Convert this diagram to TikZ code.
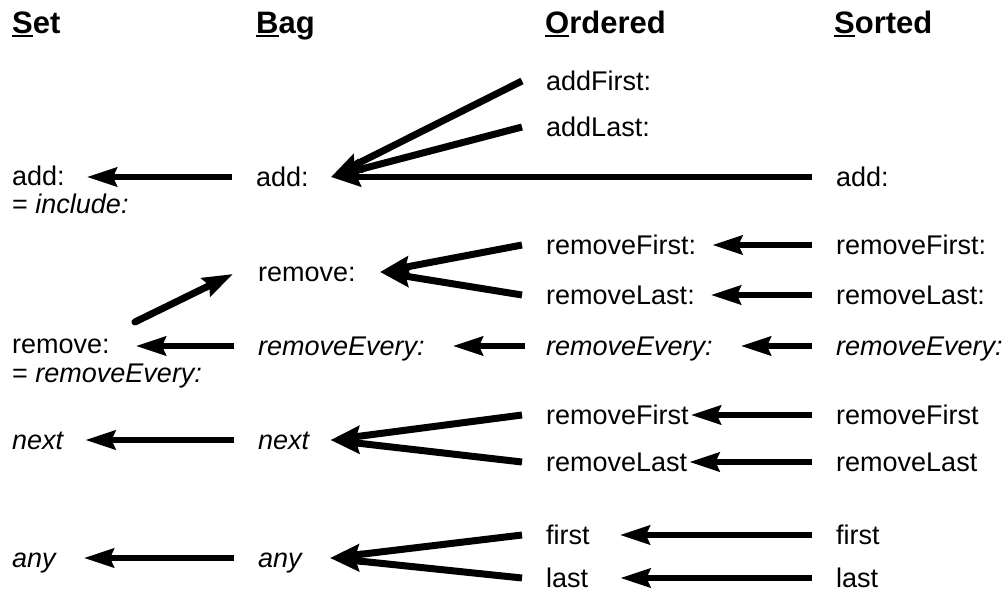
\documentclass[tikz,border=0pt]{standalone}
\usepackage{fontspec}
\setmainfont{Liberation Sans}
\usetikzlibrary{arrows.meta}
\newcommand\hdul[1]{\setbox0=\hbox{#1}\rlap{\rule[-4pt]{\wd0}{2.5pt}}\box0}
\tikzset{
  lbl/.style={anchor=west, inner sep=0pt, text height=19pt, text depth=1pt, font=\fontsize{27}{31}\selectfont},
  itl/.style={lbl, font=\fontsize{27}{31}\selectfont\itshape},
  hdr/.style={anchor=base west, inner sep=0pt, font=\fontsize{31}{35}\selectfont\bfseries},
  arr/.style={line width=5.5pt, -{Stealth[length=30pt, width=19pt, inset=4pt]}},
  fan/.style={line width=7pt, -{Stealth[length=30pt, width=20pt, inset=4pt]}},
}
\begin{document}
\begin{tikzpicture}[x=1pt, y=-1pt]
\useasboundingbox (0,0) rectangle (1007,592);
% headers
\node[hdr] (hset) at (12,33) {\hdul{S}et};
\node[hdr] (hbag) at (256,33) {\hdul{B}ag};
\node[hdr] (hord) at (545,33) {\hdul{O}rdered};
\node[hdr] (hsort) at (834,33) {\hdul{S}orted};
% Set column
\node[lbl] (setadd) at (12,176) {add:};
\node[lbl] (setinc) at (12,204) {= \textit{include:}};
\node[lbl] (setremove) at (12,344) {remove:};
\node[lbl] (setremevery) at (12,373) {= \textit{removeEvery:}};
\node[itl] (setnext) at (12,440) {next};
\node[itl] (setany) at (12,558) {any};
% Bag column
\node[lbl] (bagadd) at (256,177) {add:};
\node[lbl] (bagremove) at (258,272) {remove:};
\node[itl] (bagremevery) at (258,346) {removeEvery:};
\node[itl] (bagnext) at (258,440) {next};
\node[itl] (bagany) at (258,558) {any};
% Ordered column
\node[lbl] (ordaddfirst) at (546,81) {addFirst:};
\node[lbl] (ordaddlast) at (546,127) {addLast:};
\node[lbl] (ordremfirst) at (546,245) {removeFirst:};
\node[lbl] (ordremlast) at (546,295) {removeLast:};
\node[itl] (ordremevery) at (546,346) {removeEvery:};
\node[lbl] (ordremfirstb) at (546,415) {removeFirst};
\node[lbl] (ordremlastb) at (546,462) {removeLast};
\node[lbl] (ordfirst) at (546,535) {first};
\node[lbl] (ordlast) at (546,578) {last};
% Sorted column
\node[lbl] (sortadd) at (836,177) {add:};
\node[lbl] (sortremfirst) at (836,245) {removeFirst:};
\node[lbl] (sortremlast) at (836,295) {removeLast:};
\node[itl] (sortremevery) at (836,346) {removeEvery:};
\node[lbl] (sortremfirstb) at (836,415) {removeFirst};
\node[lbl] (sortremlastb) at (836,462) {removeLast};
\node[lbl] (sortfirst) at (836,535) {first};
\node[lbl] (sortlast) at (836,578) {last};
% add row
\draw[arr] ([xshift=-24pt]bagadd.west) -- ([xshift=22pt]bagadd.west -| setadd.east);
\draw[fan] ([xshift=-24pt]ordaddfirst.west) -- ([xshift=22pt]bagadd.east);
\draw[fan] ([xshift=-24pt]ordaddlast.west) -- ([xshift=22pt]bagadd.east);
\draw[arr] ([xshift=-24pt]sortadd.west) -- ([xshift=22pt]bagadd.east);
% remove rows
\draw[fan] ([xshift=-24pt]ordremfirst.west) -- ([xshift=24pt]bagremove.east);
\draw[fan] ([xshift=-24pt]ordremlast.west) -- ([xshift=24pt]bagremove.east);
\draw[arr] ([xshift=-24pt]sortremfirst.west) -- ([xshift=16pt]ordremfirst.east);
\draw[arr] ([xshift=-24pt]sortremlast.west) -- ([xshift=16pt]ordremlast.east);
\draw[fan, line cap=round] ([xshift=25pt,yshift=22pt]setremove.east) -- ([xshift=-25pt,yshift=-2pt]bagremove.west);
% removeEvery row
\draw[arr] ([xshift=-24pt]bagremevery.west) -- ([xshift=26pt]bagremevery.west -| setremove.east);
\draw[arr] ([xshift=-21pt]ordremevery.west) -- ([xshift=28pt]bagremevery.east);
\draw[arr] ([xshift=-24pt]sortremevery.west) -- ([xshift=28pt]ordremevery.east);
% next rows
\draw[arr] ([xshift=-24pt]bagnext.west) -- ([xshift=22pt]setnext.east);
\draw[fan] ([xshift=-24pt]ordremfirstb.west) -- ([xshift=21pt]bagnext.east);
\draw[fan] ([xshift=-24pt]ordremlastb.west) -- ([xshift=21pt]bagnext.east);
\draw[arr] ([xshift=-24pt]sortremfirstb.west) -- ([xshift=2pt]ordremfirstb.east);
\draw[arr] ([xshift=-24pt]sortremlastb.west) -- ([xshift=2pt]ordremlastb.east);
% any rows
\draw[arr] ([xshift=-24pt]bagany.west) -- ([xshift=28pt]setany.east);
\draw[fan] ([xshift=-24pt]ordfirst.west) -- ([xshift=28pt]bagany.east);
\draw[fan] ([xshift=-24pt]ordlast.west) -- ([xshift=28pt]bagany.east);
\draw[arr] ([xshift=-24pt]sortfirst.west) -- ([xshift=30pt]ordfirst.east);
\draw[arr] ([xshift=-24pt]sortlast.west) -- ([xshift=32pt]ordlast.east);
\end{tikzpicture}
\end{document}
